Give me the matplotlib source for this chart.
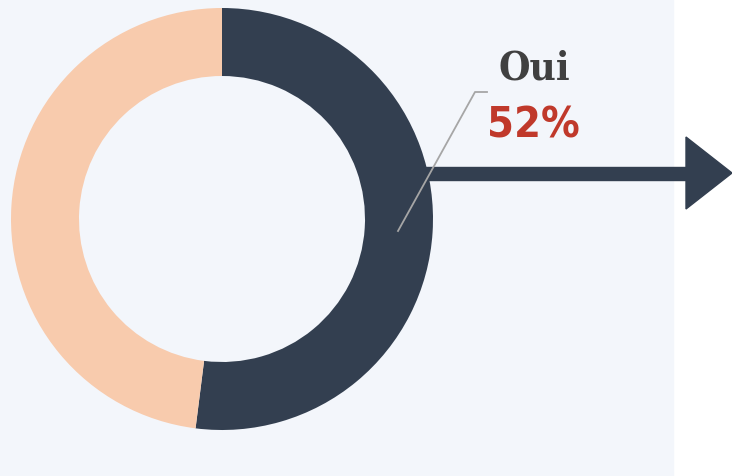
import matplotlib.pyplot as plt
from matplotlib.patches import Rectangle, Polygon

# donnees
labels = ['Oui', 'Non']
values = [52, 48]
colors = ['#333f50', '#f8cbad']

W, H = 732, 476
fig = plt.figure(figsize=(W / 100, H / 100), dpi=100)
ax = fig.add_axes([0, 0, 1, 1])

# fond bleu clair
ax.add_patch(Rectangle((0, 0), 673, H, color='#f3f6fb', zorder=0))

# anneau
cx, cy = 222, H - 219
ax.pie(values, colors=colors, startangle=90, counterclock=False,
       radius=211, center=(cx, cy), frame=True,
       wedgeprops=dict(width=68, linewidth=0))
ax.set_xlim(0, W)
ax.set_ylim(0, H)
ax.set_aspect('equal')
ax.axis('off')

# fleche
ax.add_patch(Rectangle((425, H - 180), 262, 13, color='#333f50', zorder=3))
ax.add_patch(Polygon([(686, H - 137), (732, H - 173), (686, H - 209)],
                     closed=True, color='#333f50', zorder=3))

# ligne de rappel
ax.plot([398, 475, 487], [H - 231, H - 92, H - 92], color='#a6a6a6', lw=1.3, zorder=4)

# etiquettes
ax.text(534, H - 79, labels[0], ha='center', va='baseline', fontsize=29,
        fontweight='bold', fontstretch='condensed', family='DejaVu Serif',
        color='#404040')
ax.text(533, H - 137, f'{values[0]}%', ha='center', va='baseline', fontsize=31,
        fontweight='bold', fontstretch='condensed', family='DejaVu Sans',
        color='#c0392b')

fig.savefig('out.png', dpi=100)
